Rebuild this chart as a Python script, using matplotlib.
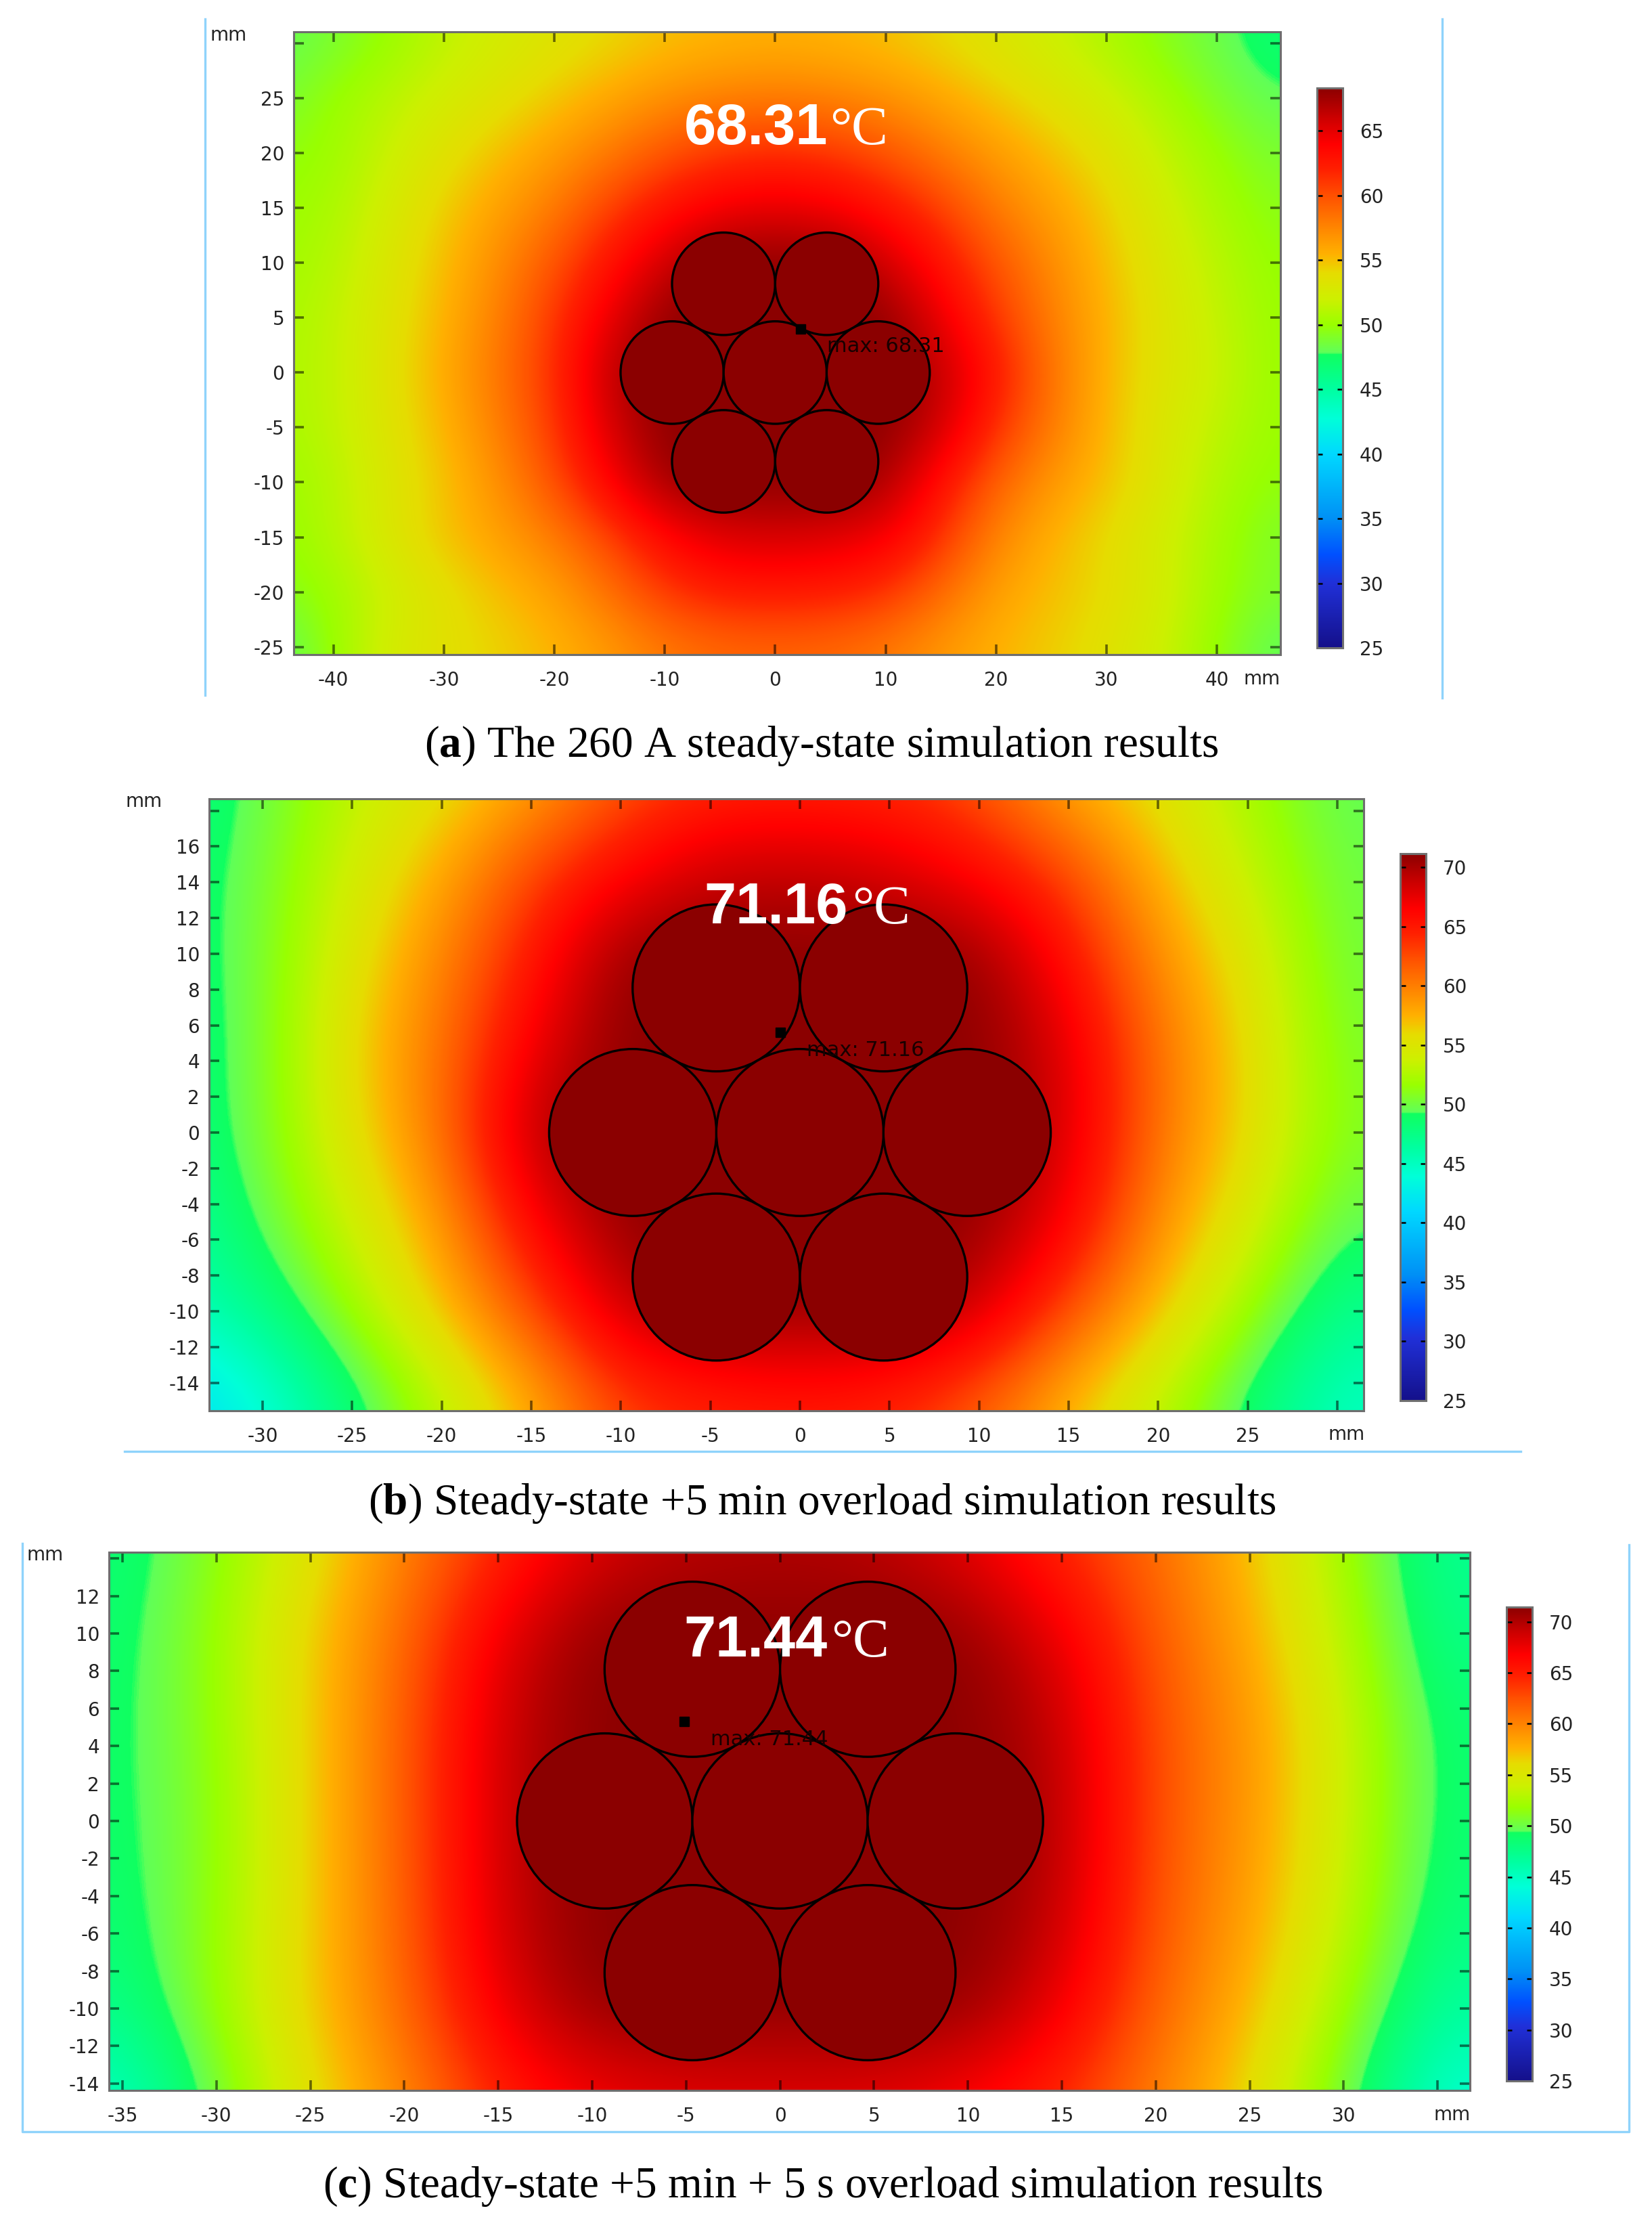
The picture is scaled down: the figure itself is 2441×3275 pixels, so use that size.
import matplotlib
matplotlib.use('Agg')
import matplotlib.pyplot as plt
from matplotlib.colors import LinearSegmentedColormap
from matplotlib.lines import Line2D
from matplotlib.patches import Circle

W, H = 2441, 3275
plt.rcParams['axes.unicode_minus'] = False
plt.rcParams['mathtext.fontset'] = 'custom'
plt.rcParams['mathtext.bf'] = 'Liberation Serif:bold'
plt.rcParams['mathtext.rm'] = 'Liberation Serif'

# colour scale
cmap_pos = [0, .115, .166, .231, .346, .41, .462, .524, .528, .577, .623, .67, .704, .739, .808, .854, .90, .947, 1]
cmap_col = ['#14108a', '#2030d8', '#0050ff', '#0090f5', '#00d8ff', '#00ffd8', '#00ffa0', '#10ff60', '#60ff58',
            '#99ff00', '#cdf000', '#e6dc00', '#ffb000', '#ff9000', '#ff5000', '#ff2000', '#ff0000', '#cc0000', '#8b0000']

# strand centres and radius, mm
strand_x = [-4.67, 4.67, -9.33, 0, 9.33, -4.67, 4.67]
strand_y = [8.09, 8.09, 0, 0, 0, -8.09, -8.09]
strand_r = 4.67

# (a) 260 A steady state, temperatures on a 5 mm grid
a_x = [-45, -40, -35, -30, -25, -20, -15, -10, -5, 0, 5, 10, 15, 20, 25, 30, 35, 40, 45]
a_y = [30, 25, 20, 15, 10, 5, 0, -5, -10, -15, -20, -25]
a_temp = [
    [47.9, 48.8, 50, 51.4, 52.4, 53.3, 54.1, 54.9, 55.3, 55.5, 55.3, 54.9, 54.1, 53.1, 52, 50.8, 49.4, 48.2, 47],
    [48.6, 50, 51.2, 52.4, 53.5, 54.7, 55.9, 57, 57.7, 58, 57.7, 57, 55.9, 54.7, 53.5, 52.2, 50.6, 49, 47.9],
    [49.5, 50.2, 51.8, 53.5, 55, 56.4, 58, 59.8, 61.1, 61.5, 61.1, 59.8, 58, 56.4, 55, 53.5, 51.6, 50, 48.8],
    [50, 50.6, 52.5, 54.5, 56.2, 58, 60.7, 62.9, 64.4, 65, 64.4, 62.9, 60.7, 58, 56.2, 54.5, 52.4, 50.6, 49.4],
    [50.2, 51, 53, 55, 57.2, 59.8, 62.9, 65.9, 68.2, 68.3, 68.2, 65.9, 62.9, 59.8, 57.2, 55, 53, 51.2, 49.8],
    [50.5, 51.4, 53.3, 55.4, 57.8, 61.1, 64.8, 68.2, 68.3, 68.3, 68.3, 68.2, 64.8, 61.1, 57.8, 55.4, 53.3, 51.6, 50],
    [50.7, 51.4, 53.5, 55.7, 58.3, 61.4, 66.6, 68.3, 68.3, 68.3, 68.3, 68.3, 66.5, 62.7, 58.4, 55.3, 53.3, 51.9, 50],
    [50.5, 51.4, 53.3, 55.3, 57.8, 61, 65.7, 68.2, 68.3, 68.3, 68.3, 68.3, 66, 61.4, 58, 55.2, 53, 51.4, 50],
    [50, 51, 53, 54.8, 57, 60, 64, 67.7, 68.3, 68.3, 68.3, 67.3, 63, 59.2, 56.6, 54.9, 53, 50.8, 49.7],
    [49.8, 51, 53, 54.9, 56.2, 57.9, 60.5, 63.5, 65.3, 65.6, 65.3, 64.4, 61.4, 57.5, 55.4, 54, 52.3, 50.5, 48.9],
    [49.2, 50.2, 52, 53.6, 55, 56.2, 58.5, 61, 62.3, 62.5, 62.3, 61.4, 58.8, 56.2, 55, 54, 52.5, 50.2, 49],
    [47.5, 50, 52.5, 53.6, 54.3, 55.3, 56.5, 58, 58.8, 59, 58.8, 58, 56.6, 55.4, 54.5, 53.5, 52, 49.8, 47.8],
]

# (b) steady state + 5 min overload
b_x = [-35, -30, -25, -20, -15, -10, -5, 0, 5, 10, 15, 20, 25, 30]
b_y = [20, 15, 10, 5, 0, -5, -10, -15]
b_temp = [
    [47.5, 49.6, 53, 55, 57.5, 61.5, 63.3, 63.5, 63.3, 61.5, 57, 55, 52, 49.3],
    [48, 50, 54, 57.5, 62.5, 65.6, 68.6, 68.9, 68, 65.6, 62.4, 57, 53.2, 49.8],
    [48, 50.2, 55, 59.5, 65, 71, 71.16, 71.16, 71.16, 71, 65.6, 59, 55, 50],
    [47.5, 50.2, 56, 60.5, 67, 71.16, 71.16, 71.16, 71.16, 71.16, 68, 60.5, 56, 50.4],
    [47.5, 50.2, 55.5, 60.5, 70, 71.16, 71.16, 71.16, 71.16, 71.16, 68.4, 60.5, 56, 50.8],
    [46, 49.6, 53.8, 58.5, 66.5, 71, 71.16, 71.16, 71.16, 71, 67, 59, 54.5, 49.4],
    [45, 47.2, 51.8, 56.8, 62.4, 69, 71, 71, 71, 69, 62.4, 56.9, 51.8, 47],
    [41, 43.5, 48, 52.8, 57.5, 62.9, 64.2, 64.7, 64.2, 61.5, 57, 53, 48.4, 44.8],
]

# (c) steady state + 5 min + 5 s overload
c_x = [-35, -30, -25, -20, -15, -10, -5, 0, 5, 10, 15, 20, 25, 30, 35]
c_y = [15, 10, 5, 0, -5, -10, -15]
c_temp = [
    [48.3, 51, 55.2, 59.8, 64, 68, 69.5, 69.8, 69.5, 67.5, 64, 61, 57, 52, 47],
    [48.6, 51.7, 56.6, 61.2, 67.7, 71.44, 71.44, 71.44, 71.44, 71.4, 67.7, 62, 58, 53, 47.5],
    [48.8, 51.5, 56.6, 61.7, 69, 71.44, 71.44, 71.44, 71.44, 71.44, 69.5, 62.5, 59, 54, 48.5],
    [48.8, 51.2, 56.6, 61.7, 69, 71.44, 71.44, 71.44, 71.44, 71.44, 70, 62.5, 59, 54, 48.5],
    [48.5, 51.5, 56.6, 61.5, 69, 71.44, 71.44, 71.44, 71.44, 71.44, 69.5, 62.2, 58.5, 53.5, 48],
    [47.5, 51.8, 56.8, 61.2, 67.7, 71.44, 71.44, 71.44, 71.44, 71.4, 67.7, 61.5, 57.5, 52, 46.5],
    [44.5, 50, 55.7, 59.4, 64.5, 66.8, 67.7, 67.7, 67.7, 66.3, 64, 60, 56, 50, 44],
]

# panel settings: axes box in pixels, limits, ticks
panels = [
    dict(x=a_x, y=a_y, temp=a_temp, vmax=68.31, box=(434, 47, 1892, 967), xlim=(-43.6, 45.76), ylim=(-25.7, 31.05),
         xticks=[-40, -30, -20, -10, 0, 10, 20, 30, 40], xhide=[],
         yticks=[-25, -20, -15, -10, -5, 0, 5, 10, 15, 20, 25, 30], yhide=[30],
         cbar=(1946, 130, 1984, 957), cticks=[25, 30, 35, 40, 45, 50, 55, 60, 65],
         mark=(2.3, 4.0), mm1=(338, 52), mm2=(1865, 1003), big=(1011, 213), deg=(1226, 213)),
    dict(x=b_x, y=b_y, temp=b_temp, vmax=71.16, box=(309, 1180, 2015, 2084), xlim=(-32.98, 31.47), ylim=(-15.57, 18.67),
         xticks=[-30, -25, -20, -15, -10, -5, 0, 5, 10, 15, 20, 25, 30], xhide=[30],
         yticks=[-14, -12, -10, -8, -6, -4, -2, 0, 2, 4, 6, 8, 10, 12, 14, 16, 18], yhide=[18],
         cbar=(2069, 1261, 2107, 2069), cticks=[25, 30, 35, 40, 45, 50, 55, 60, 65, 70],
         mark=(-1.1, 5.6), mm1=(213, 1184), mm2=(1990, 2119), big=(1040, 1364), deg=(1259, 1364)),
    dict(x=c_x, y=c_y, temp=c_temp, vmax=71.44, box=(161, 2293, 2172, 3088), xlim=(-35.72, 36.72), ylim=(-14.37, 14.33),
         xticks=[-35, -30, -25, -20, -15, -10, -5, 0, 5, 10, 15, 20, 25, 30, 35], xhide=[35],
         yticks=[-14, -12, -10, -8, -6, -4, -2, 0, 2, 4, 6, 8, 10, 12, 14], yhide=[14],
         cbar=(2226, 2374, 2264, 3074), cticks=[25, 30, 35, 40, 45, 50, 55, 60, 65, 70],
         mark=(-5.1, 5.3), mm1=(67, 2297), mm2=(2146, 3124), big=(1010, 2447), deg=(1228, 2447)),
]

captions = [
    (1214, 1102, r'($\mathbf{a}$) The 260 A steady-state simulation results'),
    (1215, 2221, r'($\mathbf{b}$) Steady-state +5 min overload simulation results'),
    (1216, 3230, r'($\mathbf{c}$) Steady-state +5 min + 5 s overload simulation results'),
]

# light blue frame pieces left around the screenshots
frames = [
    ([303, 303], [28, 1027]),
    ([2131, 2131], [28, 1031]),
    ([184, 2247], [2144, 2144]),
    ([33, 33, 2407, 2407], [2280, 3149, 3149, 2282]),
]

fig = plt.figure(figsize=(W / 100, H / 100), dpi=100)
cmap = LinearSegmentedColormap.from_list('comsol', list(zip(cmap_pos, cmap_col)), N=1024)


def px(x, y):
    return x / W, 1 - y / H


def add_box(box):
    x0, y0, x1, y1 = box
    return fig.add_axes([x0 / W, 1 - y1 / H, (x1 - x0) / W, (y1 - y0) / H])


for p in panels:
    ax = add_box(p['box'])
    x = p['x']
    y = p['y']
    dx = x[1] - x[0]
    im = ax.imshow(p['temp'], cmap=cmap, vmin=25, vmax=p['vmax'], aspect='auto', interpolation='bicubic',
                   interpolation_stage='data', origin='upper',
                   extent=(x[0] - dx / 2, x[-1] + dx / 2, y[-1] - dx / 2, y[0] + dx / 2))
    for cx, cy in zip(strand_x, strand_y):
        ax.add_patch(Circle((cx, cy), strand_r, facecolor='#8b0000', edgecolor='black', linewidth=2.4))
    ax.set_xlim(p['xlim'])
    ax.set_ylim(p['ylim'])
    ax.set_xticks(p['xticks'])
    ax.set_yticks(p['yticks'])
    ax.set_xticklabels(['' if v in p['xhide'] else str(v) for v in p['xticks']])
    ax.set_yticklabels(['' if v in p['yhide'] else str(v) for v in p['yticks']])
    ax.tick_params(axis='x', direction='in', top=True, bottom=True, length=11, width=2.6,
                   color=(0, 0, 0, .55), labelsize=20, labelcolor='#222222', pad=17)
    ax.tick_params(axis='y', direction='in', left=True, right=True, length=11, width=2.6,
                   color=(0, 0, 0, .55), labelsize=20, labelcolor='#222222', pad=10)
    for s in ax.spines.values():
        s.set_color('#6e6e6e')
        s.set_linewidth(2.2)

    # max marker and its label
    ax.plot([p['mark'][0]], [p['mark'][1]], marker='s', color='black', markersize=10.5, linestyle='none')
    ax.annotate('max: %.2f' % p['vmax'], xy=p['mark'], xytext=(28, -19), textcoords='offset points',
                fontsize=22, color='#180000', va='center', ha='left')

    cax = add_box(p['cbar'])
    cb = fig.colorbar(im, cax=cax)
    cb.set_ticks(p['cticks'])
    cb.ax.tick_params(direction='in', left=True, right=True, length=6, width=1.8, color='black',
                      labelsize=20, labelcolor='#222222', pad=18)
    cb.ax.minorticks_off()
    cb.outline.set_edgecolor('#707070')
    cb.outline.set_linewidth(2.2)

    fig.text(*px(*p['mm1']), 'mm', fontsize=20, color='#222222', ha='center', va='center')
    fig.text(*px(*p['mm2']), 'mm', fontsize=20, color='#222222', ha='center', va='center')

    # big white temperature label, digits in sans and the unit in serif
    fig.text(*px(*p['big']), '%.2f' % p['vmax'], fontsize=61, fontweight='bold', family='Liberation Sans',
             color='white', ha='left', va='baseline')
    fig.text(*px(*p['deg']), '°C', fontsize=58, family='Liberation Serif',
             color='white', ha='left', va='baseline')

for cx, cy, label in captions:
    fig.text(*px(cx, cy), label, fontsize=47, family='Liberation Serif', color='black', ha='center', va='center')

for fx, fy in frames:
    fig.add_artist(Line2D([v / W for v in fx], [1 - v / H for v in fy], color='#8fd3fb', linewidth=2.4))

fig.savefig('out.png', dpi=100)
